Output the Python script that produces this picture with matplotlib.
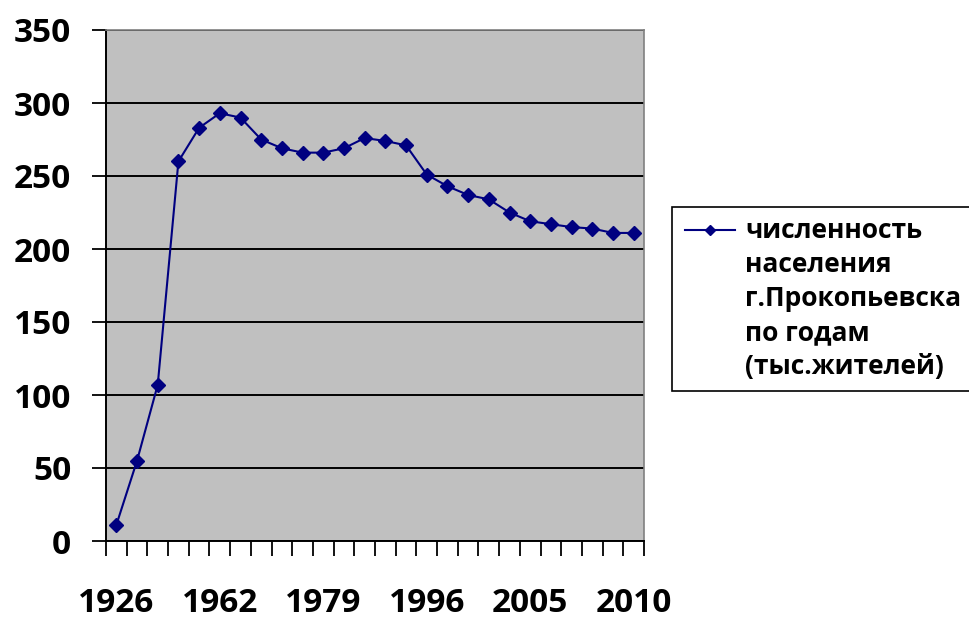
import matplotlib
matplotlib.use('Agg')
import matplotlib.pyplot as plt
from matplotlib.patches import Rectangle
from matplotlib.lines import Line2D
import numpy as np

plt.rcParams['font.family'] = ['Open Sans', 'DejaVu Sans']

# only every 5th year label is visible on the original chart
years = ['1926', '', '', '', '', '1962', '', '', '', '', '1979', '', '', '', '',
         '1996', '', '', '', '', '2005', '', '', '', '', '2010']
population = [11, 55, 107, 260, 283, 293, 290, 275, 269, 266, 266, 269, 276,
              274, 271, 251, 243, 237, 234, 225, 219, 217, 215, 214, 211, 211]
series_name = 'численность\nнаселения\nг.Прокопьевска\nпо годам\n(тыс.жителей)'
y_ticks = [0, 50, 100, 150, 200, 250, 300, 350]

W, H = 970, 619
fig = plt.figure(figsize=(W/100, H/100), dpi=100)
ax = fig.add_axes([106/W, 1-541/H, (644-106)/W, (541-30)/H])
ax.set_facecolor('#c0c0c0')

x = np.arange(len(population))
ax.plot(x, population, color='#000080', lw=1.5, marker='D', ms=7, zorder=3)

ax.set_xlim(-0.5, len(population)-0.5)
ax.set_ylim(0, 350)
ax.set_yticks(y_ticks)
ax.yaxis.grid(True, color='black', lw=1.4)
ax.set_axisbelow(True)

ax.set_xticks(x)
ax.set_xticklabels(years)
ax.set_xticks(np.arange(len(population)+1)-0.5, minor=True)
ax.tick_params(axis='x', which='major', length=0, pad=33)
ax.tick_params(axis='x', which='minor', length=11, width=1.3, direction='out')
ax.tick_params(axis='y', length=10, width=1.3, direction='out', pad=15)
for lab in ax.get_xticklabels() + ax.get_yticklabels():
    lab.set_fontsize(24)
    lab.set_fontweight('bold')

for s in ['left', 'bottom']:
    ax.spines[s].set_color('black')
    ax.spines[s].set_linewidth(1.4)
for s in ['top', 'right']:
    ax.spines[s].set_color('#808080')
    ax.spines[s].set_linewidth(1.2)

# legend box, drawn by hand (its right side runs off the picture like the original)
fig.patches.append(Rectangle((672/W, 1-391/H), 320/W, 184/H, transform=fig.transFigure,
                             facecolor='white', edgecolor='black', lw=1.2))
fig.add_artist(Line2D([685/W, 735/W], [1-230/H, 1-230/H], transform=fig.transFigure,
                      color='#000080', lw=1.5))
fig.add_artist(Line2D([710/W], [1-230/H], transform=fig.transFigure,
                      color='#000080', marker='D', ms=5))
for i, line in enumerate(series_name.split('\n')):
    fig.text(745/W, 1-(238+34*i)/H, line, fontsize=19, fontweight='bold',
             va='baseline', ha='left')

fig.savefig('out.png', dpi=100)
